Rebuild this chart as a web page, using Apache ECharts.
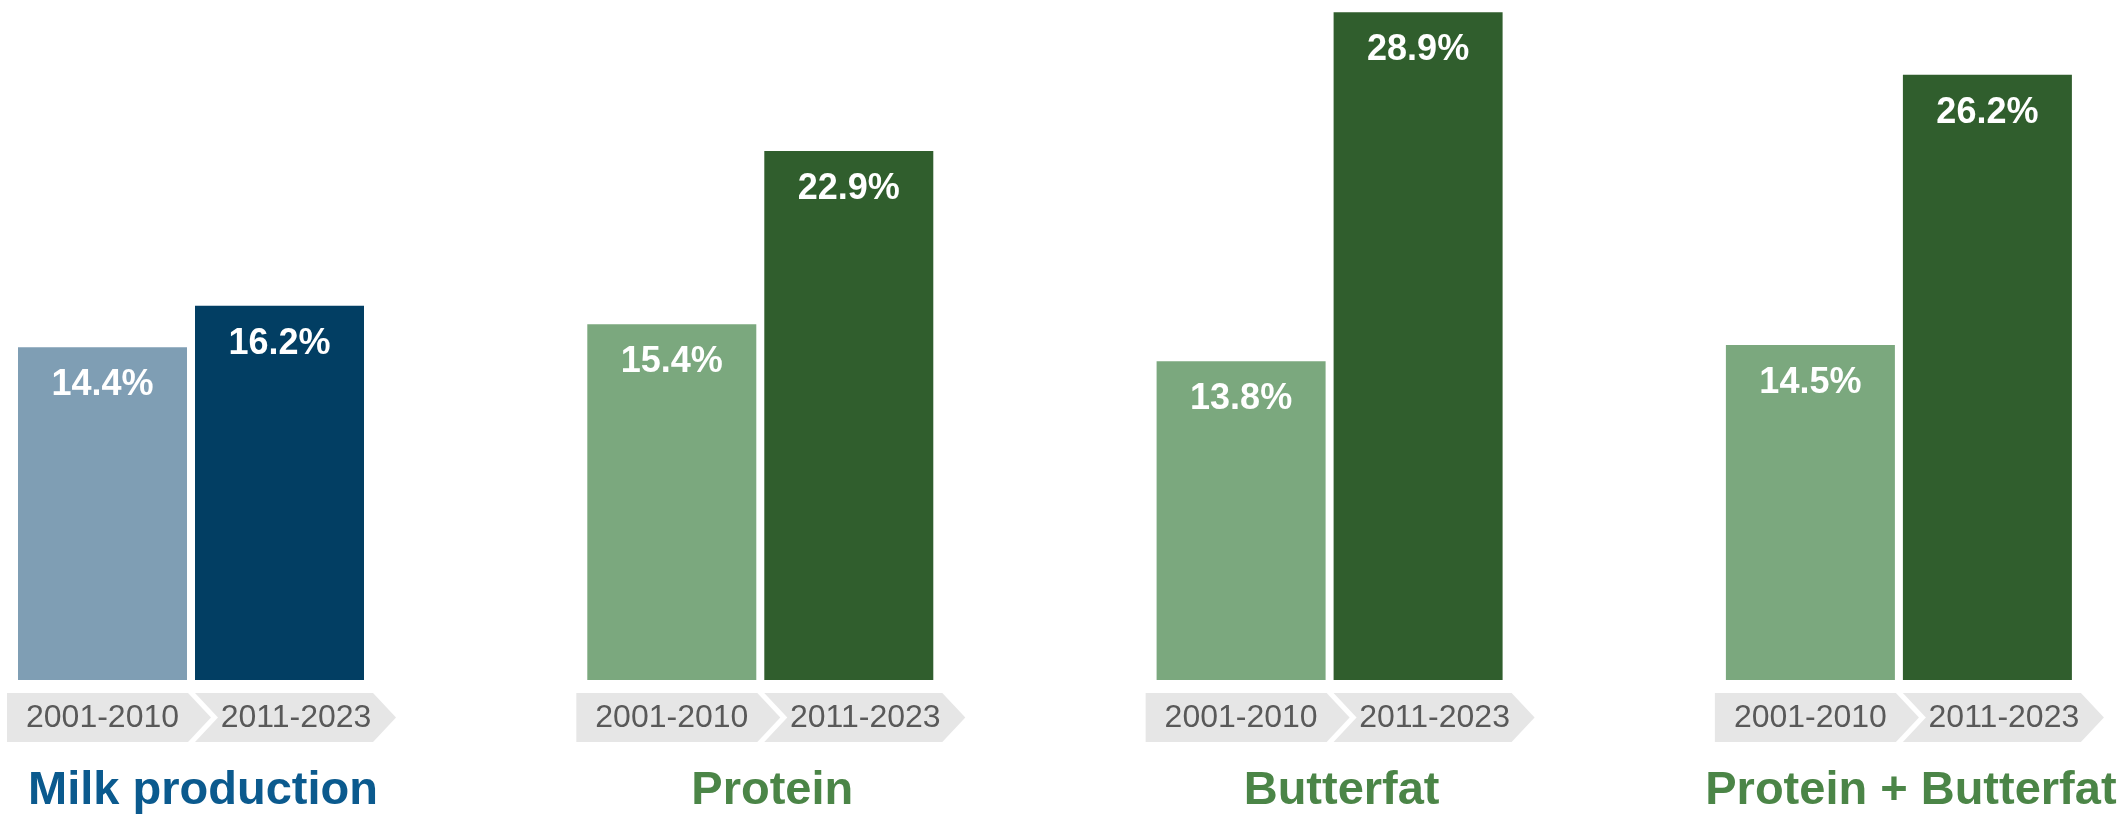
<!DOCTYPE html>
<html>
<head>
<meta charset="utf-8">
<title>Growth comparison</title>
<script src="https://cdn.jsdelivr.net/npm/echarts@6/dist/echarts.min.js"></script>
<style>
  html, body { margin: 0; padding: 0; background: #ffffff; }
  #main { width: 2123px; height: 815px; }
</style>
</head>
<body>
<div id="main"></div>
<script>
// data
var groups = ['Milk production', 'Protein', 'Butterfat', 'Protein + Butterfat'];
var periods = ['2001-2010', '2011-2023'];
var early = [14.4, 15.4, 13.8, 14.5];
var late = [16.2, 22.9, 28.9, 26.2];

// colours per group: [light bar, dark bar, title]
var blue = ['#7f9eb4', '#023e63', '#0b5a8e'];
var green = ['#7ba87e', '#305e2d', '#4b8547'];
var palette = [blue, green, green, green];

var font = '"Liberation Sans", Arial, sans-serif';
var step = 569.3;   // distance between groups
var gridW = 354;

var chart = echarts.init(document.getElementById('main'), null, { renderer: 'canvas' });

// chevron under each bar, first one flat on the left, second one notched
function renderChevron(params, api) {
  var idx = api.value(0);
  var pt = api.coord([idx, 0]);
  var cx = pt[0];
  var yTop = pt[1] + 13;
  var yBot = pt[1] + 62;
  var yMid = (yTop + yBot) / 2;
  var d = 23;
  var poly, tx;
  if (idx === 0) {
    var l = cx - 95.5, r = cx + 85.5;
    poly = [[l, yTop], [r, yTop], [r + d, yMid], [r, yBot], [l, yBot]];
    tx = cx;
  } else {
    var l2 = cx - 84.5, r2 = cx + 93.5;
    poly = [[l2, yTop], [r2, yTop], [r2 + d, yMid], [r2, yBot], [l2, yBot], [l2 + d, yMid]];
    tx = cx + 16.5;
  }
  return {
    type: 'group',
    children: [
      { type: 'polygon', shape: { points: poly }, style: { fill: '#e6e6e6' } },
      {
        type: 'text',
        style: {
          text: periods[idx], x: tx, y: yMid + 1,
          align: 'center', verticalAlign: 'middle',
          fill: '#595959', fontSize: 32, fontFamily: font
        }
      }
    ]
  };
}

var grids = [], xAxes = [], yAxes = [], series = [], titles = [];
groups.forEach(function (name, i) {
  var left = 14 + step * i;
  grids.push({ left: left, width: gridW, top: 10, bottom: 135 });
  xAxes.push({
    type: 'category', gridIndex: i, data: periods,
    axisLine: { show: false }, axisTick: { show: false }, axisLabel: { show: false }
  });
  yAxes.push({
    type: 'value', gridIndex: i, min: 0, max: 29, show: false,
    splitLine: { show: false }
  });
  series.push({
    type: 'bar', xAxisIndex: i, yAxisIndex: i,
    barWidth: 169,
    data: [
      { value: early[i], itemStyle: { color: palette[i][0] } },
      { value: late[i], itemStyle: { color: palette[i][1] } }
    ],
    label: {
      show: true, position: 'insideTop', distance: 20,
      formatter: '{c}%', color: '#ffffff',
      fontSize: 36, fontWeight: 'bold', fontFamily: font
    },
    silent: true
  });
  series.push({
    type: 'custom', xAxisIndex: i, yAxisIndex: i,
    renderItem: renderChevron,
    data: periods.map(function (p, j) { return [j]; }),
    silent: true, z: 1
  });
  titles.push({
    text: name, left: left + 188 - 4, top: 763, textAlign: 'center',
    textStyle: { color: palette[i][2], fontSize: 47, fontWeight: 'bold', fontFamily: font }
  });
});

var option = {
  animation: false,
  backgroundColor: '#ffffff',
  title: titles,
  grid: grids,
  xAxis: xAxes,
  yAxis: yAxes,
  series: series
};
chart.setOption(option);
</script>
</body>
</html>
